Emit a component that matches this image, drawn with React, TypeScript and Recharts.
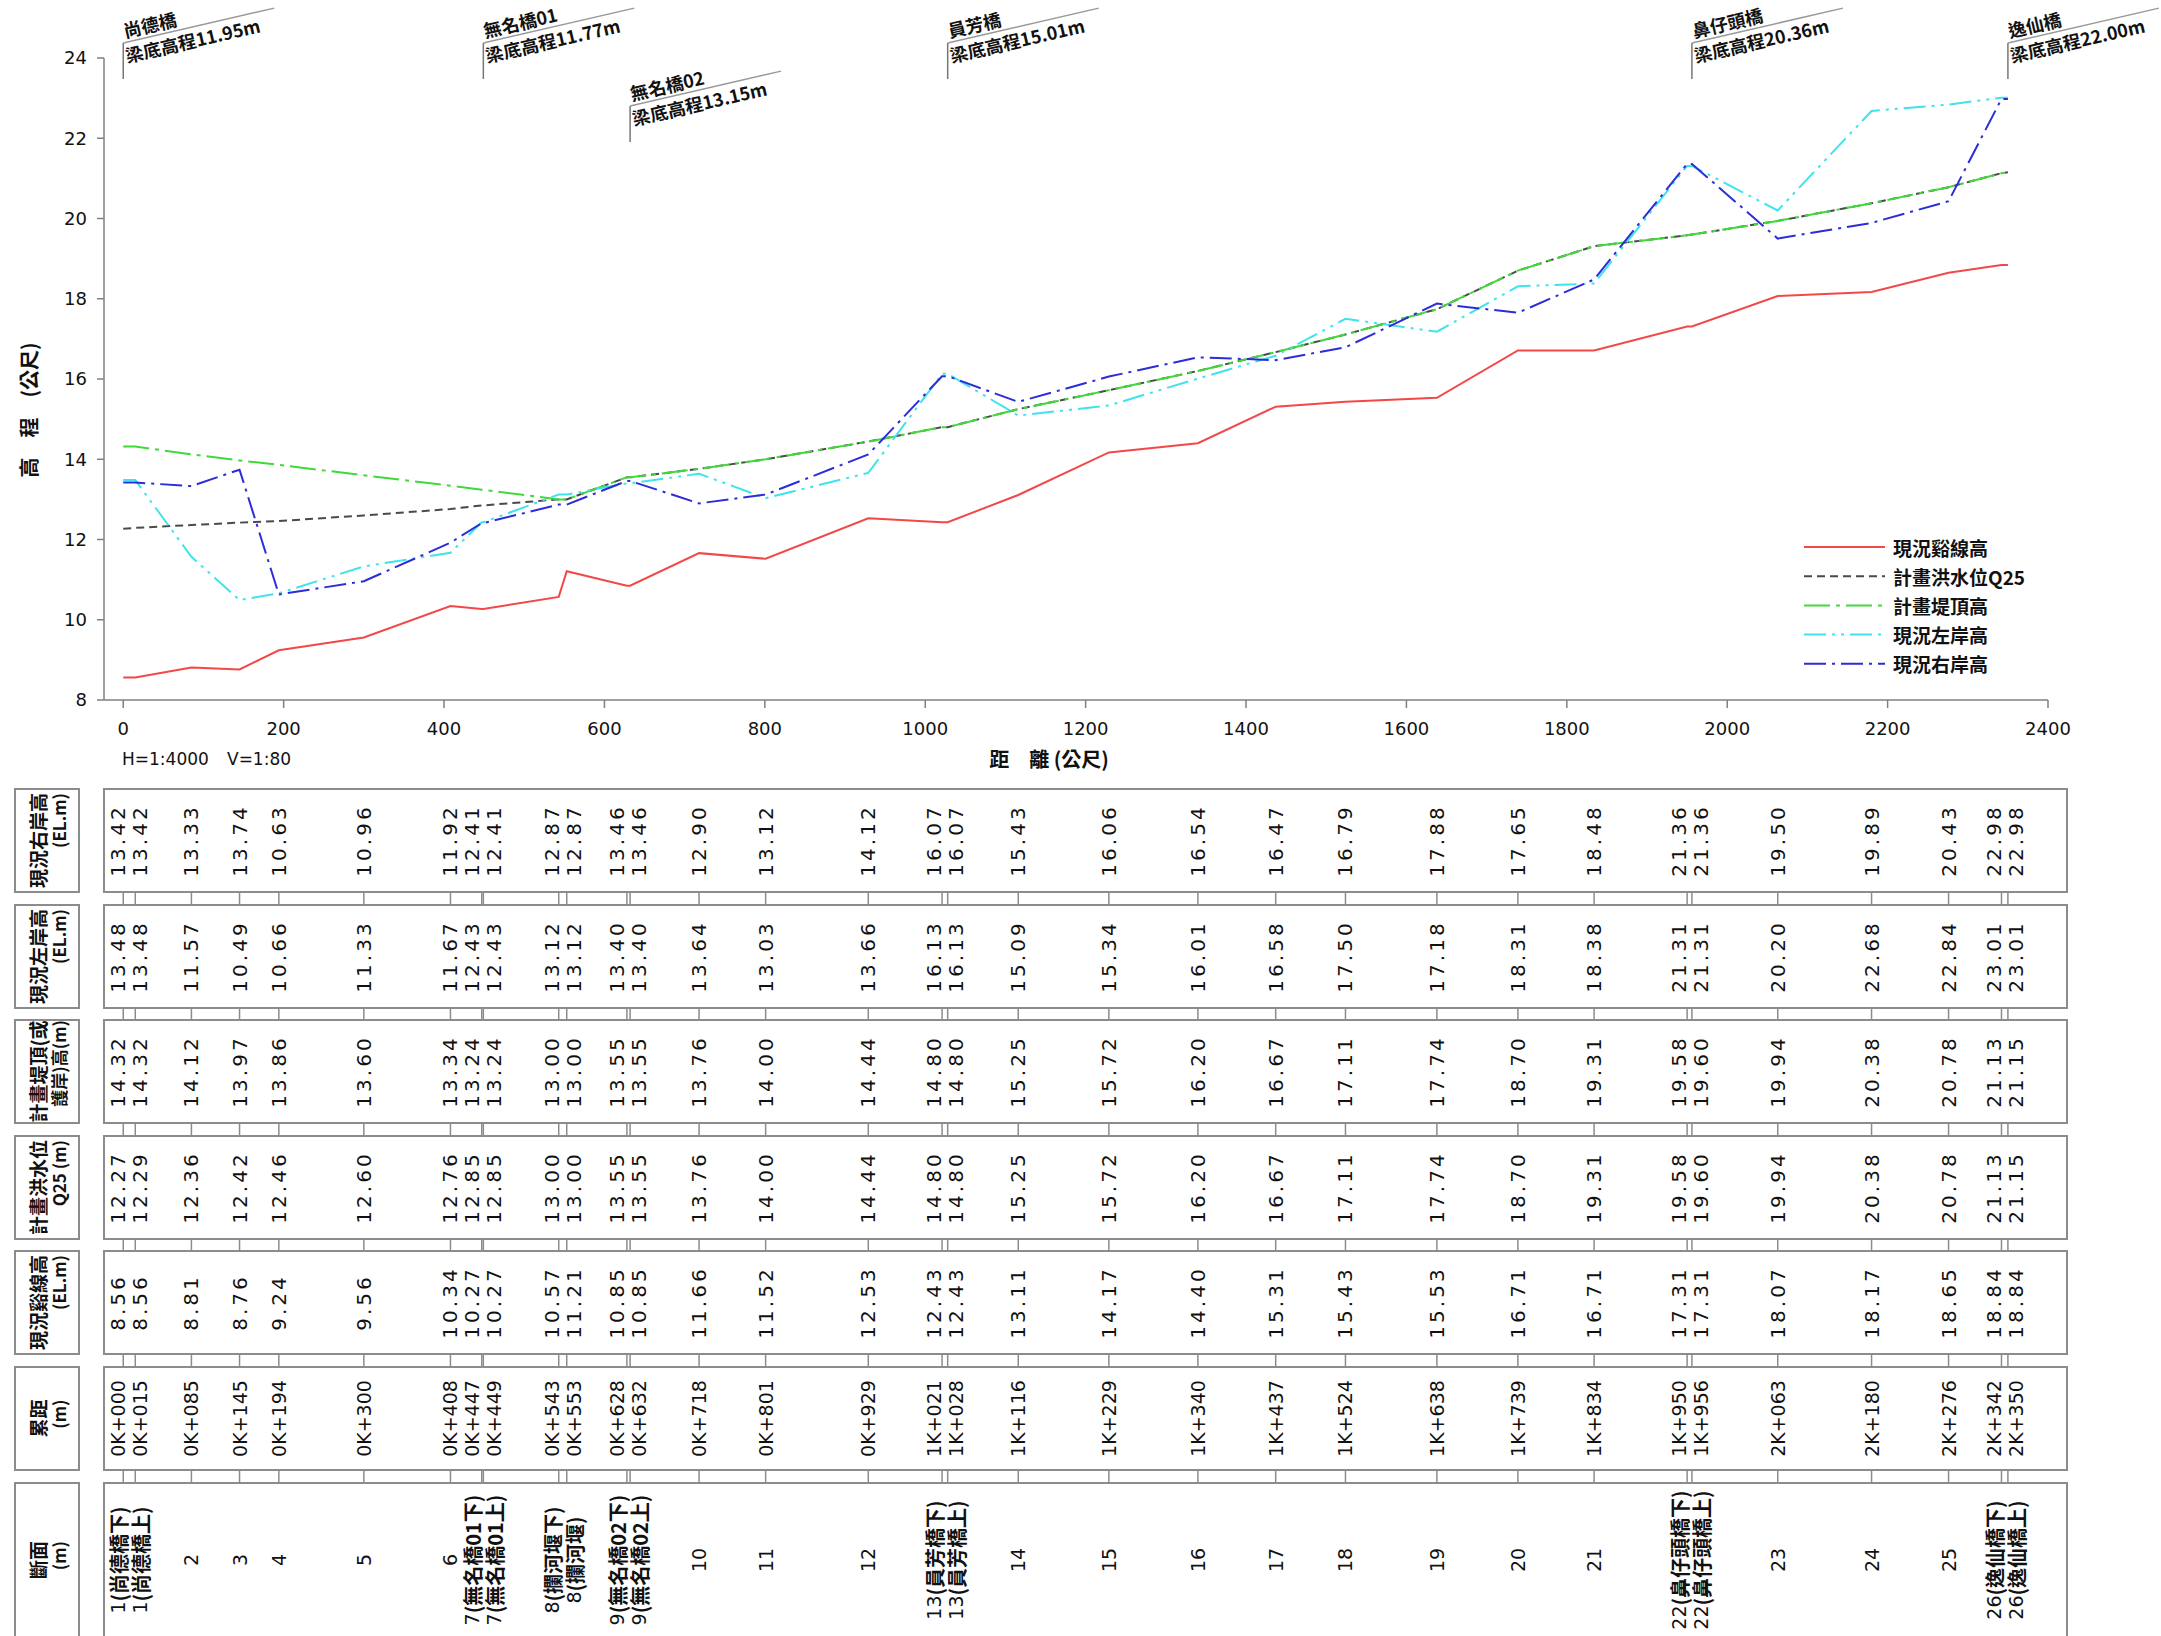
import React from "react";
import { ComposedChart, Line, XAxis, YAxis, ReferenceDot, Legend } from "recharts";

// 累距 (m)
const stations = [
  0, 15, 85, 145, 194, 300, 408, 447, 449, 543, 553, 628, 632, 718, 801, 929,
  1021, 1028, 1116, 1229, 1340, 1437, 1524, 1638, 1739, 1834, 1950, 1956, 2063,
  2180, 2276, 2342, 2350,
];
const rightBank = [
  13.42, 13.42, 13.33, 13.74, 10.63, 10.96, 11.92, 12.41, 12.41, 12.87, 12.87,
  13.46, 13.46, 12.9, 13.12, 14.12, 16.07, 16.07, 15.43, 16.06, 16.54, 16.47,
  16.79, 17.88, 17.65, 18.48, 21.36, 21.36, 19.5, 19.89, 20.43, 22.98, 22.98,
];
const leftBank = [
  13.48, 13.48, 11.57, 10.49, 10.66, 11.33, 11.67, 12.43, 12.43, 13.12, 13.12,
  13.4, 13.4, 13.64, 13.03, 13.66, 16.13, 16.13, 15.09, 15.34, 16.01, 16.58,
  17.5, 17.18, 18.31, 18.38, 21.31, 21.31, 20.2, 22.68, 22.84, 23.01, 23.01,
];
const leveeTop = [
  14.32, 14.32, 14.12, 13.97, 13.86, 13.6, 13.34, 13.24, 13.24, 13.0, 13.0,
  13.55, 13.55, 13.76, 14.0, 14.44, 14.8, 14.8, 15.25, 15.72, 16.2, 16.67,
  17.11, 17.74, 18.7, 19.31, 19.58, 19.6, 19.94, 20.38, 20.78, 21.13, 21.15,
];
const floodQ25 = [
  12.27, 12.29, 12.36, 12.42, 12.46, 12.6, 12.76, 12.85, 12.85, 13.0, 13.0,
  13.55, 13.55, 13.76, 14.0, 14.44, 14.8, 14.8, 15.25, 15.72, 16.2, 16.67,
  17.11, 17.74, 18.7, 19.31, 19.58, 19.6, 19.94, 20.38, 20.78, 21.13, 21.15,
];
const thalweg = [
  8.56, 8.56, 8.81, 8.76, 9.24, 9.56, 10.34, 10.27, 10.27, 10.57, 11.21, 10.85,
  10.85, 11.66, 11.52, 12.53, 12.43, 12.43, 13.11, 14.17, 14.4, 15.31, 15.43,
  15.53, 16.71, 16.71, 17.31, 17.31, 18.07, 18.17, 18.65, 18.84, 18.84,
];
const sectionNos = [
  "1", "1", "2", "3", "4", "5", "6", "7", "7", "8", "8", "9", "9", "10", "11",
  "12", "13", "13", "14", "15", "16", "17", "18", "19", "20", "21", "22", "22",
  "23", "24", "25", "26", "26",
];
const sectionNotes = [
  "(尚德橋下)", "(尚德橋上)", "", "", "", "", "", "(無名橋01下)", "(無名橋01上)",
  "(攔河堰下)", "(攔河堰)", "(無名橋02下)", "(無名橋02上)", "", "", "",
  "(員芳橋下)", "(員芳橋上)", "", "", "", "", "", "", "", "",
  "(鼻仔頭橋下)", "(鼻仔頭橋上)", "", "", "", "(逸仙橋下)", "(逸仙橋上)",
];

const bridgeNames = ["尚德橋", "無名橋01", "無名橋02", "員芳橋", "鼻仔頭橋", "逸仙橋"];
const bridgeBeams = [
  "梁底高程11.95m", "梁底高程11.77m", "梁底高程13.15m",
  "梁底高程15.01m", "梁底高程20.36m", "梁底高程22.00m",
];
const bridgeDists = [0, 449, 632, 1028, 1956, 2350];

const xTicks = [0, 200, 400, 600, 800, 1000, 1200, 1400, 1600, 1800, 2000, 2200, 2400];
const yTicks = [8, 10, 12, 14, 16, 18, 20, 22, 24];

const rowTitles = [
  ["現況右岸高", "(EL.m)"],
  ["現況左岸高", "(EL.m)"],
  ["計畫堤頂(或", "護岸)高(m)"],
  ["計畫洪水位", "Q25 (m)"],
  ["現況谿線高", "(EL.m)"],
  ["累距", "(m)"],
  ["斷面", "(m)"],
];

// layout
const W = 2161;
const H = 1636;
const PLOT_L = 104;
const PLOT_R = 2048;
const PLOT_T = 58;
const PLOT_B = 700;
const X_MIN = -24;
const X_MAX = 2400;
const ROW_TOPS = [789, 905, 1020, 1136, 1251, 1367, 1483];
const ROW_H = 103;
const LAST_ROW_BOTTOM = 1645;
const FONT_NUM = "'DejaVu Sans', sans-serif";
const FONT_CJK = "'Noto Sans CJK TC', 'Noto Sans CJK SC', sans-serif";
const GRID = "#8c8c8c";

const seriesStyles = [
  { key: "bed", name: "現況谿線高", color: "#f24848", dash: undefined as string | undefined },
  { key: "q25", name: "計畫洪水位Q25", color: "#4a4a4a", dash: "8 5" },
  { key: "levee", name: "計畫堤頂高", color: "#3fd93a", dash: "26 6 4 6" },
  { key: "left", name: "現況左岸高", color: "#3fe3ec", dash: "22 6 3 6 3 6" },
  { key: "right", name: "現況右岸高", color: "#2c2cd8", dash: "22 6 3 6" },
];

const data = stations.map((dist, i) => ({
  dist,
  right: rightBank[i],
  left: leftBank[i],
  levee: leveeTop[i],
  q25: floodQ25[i],
  bed: thalweg[i],
}));

const pxPerM = (PLOT_R - PLOT_L) / (X_MAX - X_MIN);

// push table text columns apart where stations sit close together
function spreadShifts(values: number[], gap: number) {
  const ps = values.map((v) => v * pxPerM);
  let groups = ps.map((p, i) => ({ start: i, n: 1, sum: p }));
  let merged = true;
  while (merged) {
    merged = false;
    for (let k = 0; k < groups.length - 1; k++) {
      const a = groups[k];
      const b = groups[k + 1];
      const aEnd = a.sum / a.n + ((a.n - 1) / 2) * gap;
      const bStart = b.sum / b.n - ((b.n - 1) / 2) * gap;
      if (bStart - aEnd < gap) {
        groups.splice(k, 2, { start: a.start, n: a.n + b.n, sum: a.sum + b.sum });
        merged = true;
        break;
      }
    }
  }
  const shifts = new Array(ps.length).fill(0);
  groups.forEach((g) => {
    const c = g.sum / g.n;
    for (let j = 0; j < g.n; j++) {
      shifts[g.start + j] = c + (j - (g.n - 1) / 2) * gap - ps[g.start + j];
    }
  });
  return shifts;
}
const labelShifts = spreadShifts(stations, 22);

const chainage = (d: number) =>
  `${Math.floor(d / 1000)}K+${String(d % 1000).padStart(3, "0")}`;

const rowMid = (r: number) =>
  r === 6 ? 1560 : ROW_TOPS[r] + ROW_H / 2;

function TableColumn(props: any) {
  const { cx, index, payload } = props;
  if (cx == null || !payload) return <g key={`c-${index}`} />;
  const tx = cx + labelShifts[index];
  const values = [
    payload.right.toFixed(2),
    payload.left.toFixed(2),
    payload.levee.toFixed(2),
    payload.q25.toFixed(2),
    payload.bed.toFixed(2),
  ];
  const rot = (r: number) => `rotate(-90 ${tx} ${rowMid(r)})`;
  return (
    <g key={`c-${index}`}>
      {ROW_TOPS.slice(0, 6).map((top, r) => (
        <line key={`g-${r}`} x1={cx} x2={cx} y1={top + ROW_H} y2={ROW_TOPS[r + 1]} stroke={GRID} strokeWidth={1.5} />
      ))}
      {values.map((v, r) => (
        <text
          key={`v-${r}`}
          x={tx}
          y={rowMid(r)}
          transform={rot(r)}
          textAnchor="middle"
          dominantBaseline="central"
          fontFamily={FONT_NUM}
          fontSize={20}
          letterSpacing={3}
          fill="#111"
        >
          {v}
        </text>
      ))}
      <text
        x={tx}
        y={rowMid(5)}
        transform={rot(5)}
        textAnchor="middle"
        dominantBaseline="central"
        fontFamily={FONT_NUM}
        fontSize={19}
        fill="#111"
      >
        {chainage(payload.dist)}
      </text>
      <text
        x={tx}
        y={rowMid(6)}
        transform={rot(6)}
        textAnchor="middle"
        dominantBaseline="central"
        fontFamily={FONT_NUM}
        fontSize={19}
        fill="#111"
      >
        {sectionNos[index]}
        {sectionNotes[index] ? (
          <tspan fontFamily={FONT_CJK} fontWeight={700} fontSize={20}>{sectionNotes[index]}</tspan>
        ) : null}
      </text>
    </g>
  );
}

const ANG = 13;
function BridgeMark({ cx, cy, name, beam, drop }: any) {
  if (cx == null || cy == null) return <g />;
  const top = cy - 15 + (drop ? 63 : 0);
  const L = 155;
  const rad = (ANG * Math.PI) / 180;
  return (
    <g>
      <line x1={cx} y1={top} x2={cx} y2={top + 36} stroke="#777" strokeWidth={1.5} />
      <line x1={cx} y1={top} x2={cx + L * Math.cos(rad)} y2={top - L * Math.sin(rad)} stroke="#999" strokeWidth={1.5} />
      <text transform={`translate(${cx + 2},${top - 5}) rotate(-${ANG})`} fontFamily={FONT_CJK} fontWeight={700} fontSize={18} fill="#111">
        {name}
      </text>
      <text transform={`translate(${cx + 4},${top + 20}) rotate(-${ANG})`} fontFamily={FONT_CJK} fontWeight={700} fontSize={18} fill="#111">
        {beam}
      </text>
    </g>
  );
}

function LegendBox() {
  return (
    <svg width={320} height={150}>
      {seriesStyles.map((s, i) => {
        const y = 15 + i * 29.2;
        return (
          <g key={s.key}>
            <line x1={4} x2={85} y1={y} y2={y} stroke={s.color} strokeWidth={2} strokeDasharray={s.dash} />
            <text x={93} y={y} dominantBaseline="central" fontFamily={FONT_CJK} fontWeight={700} fontSize={19} fill="#111">
              {s.name}
            </text>
          </g>
        );
      })}
    </svg>
  );
}

function TableFrame() {
  const titleLen = (t: string) =>
    Array.from(t).reduce((acc, ch) => acc + (/[\u3400-\u9fff]/.test(ch) ? 19 : 8), 0);
  return (
    <svg width={W} height={H} style={{ position: "absolute", left: 0, top: 0, pointerEvents: "none" }}>
      {ROW_TOPS.map((top, r) => {
        const h = r === 6 ? LAST_ROW_BOTTOM - top : ROW_H;
        const mid = rowMid(r);
        const [t1, t2] = rowTitles[r];
        const endY = mid - titleLen(t1) / 2;
        return (
          <g key={r}>
            <rect x={15} y={top} width={64} height={h} fill="none" stroke={GRID} strokeWidth={2} />
            <rect x={104} y={top} width={1963} height={h} fill="none" stroke={GRID} strokeWidth={2} />
            <text x={37} y={mid} transform={`rotate(-90 37 ${mid})`} textAnchor="middle" dominantBaseline="central" fontFamily={FONT_CJK} fontWeight={700} fontSize={19} fill="#111">
              {t1}
            </text>
            <text x={58} y={endY} transform={`rotate(-90 58 ${endY})`} textAnchor="end" dominantBaseline="central" fontFamily={FONT_CJK} fontWeight={700} fontSize={17} fill="#111">
              {t2}
            </text>
          </g>
        );
      })}
      <text x={28} y={410} transform="rotate(-90 28 410)" textAnchor="middle" dominantBaseline="central" fontFamily={FONT_CJK} fontWeight={700} fontSize={20} fill="#111">
        高　程　(公尺)
      </text>
      <text x={1049} y={758} textAnchor="middle" dominantBaseline="central" fontFamily={FONT_CJK} fontWeight={700} fontSize={20} fill="#111">
        距　離 (公尺)
      </text>
      <text x={122} y={759} dominantBaseline="central" fontFamily={FONT_NUM} fontSize={17} fill="#111">
        H=1:4000
      </text>
      <text x={227} y={759} dominantBaseline="central" fontFamily={FONT_NUM} fontSize={17} fill="#111">
        V=1:80
      </text>
    </svg>
  );
}

export default function App() {
  return (
    <div style={{ position: "absolute", left: 0, top: 0, width: W, height: H, overflow: "hidden", background: "#fff" }}>
      <ComposedChart
        width={W}
        height={H}
        data={data}
        margin={{ top: PLOT_T, right: W - PLOT_R, bottom: H - PLOT_B - 60, left: 0 }}
      >
        <XAxis
          type="number"
          dataKey="dist"
          domain={[X_MIN, X_MAX]}
          ticks={xTicks}
          interval={0}
          height={60}
          tickSize={8}
          tickMargin={14}
          axisLine={{ stroke: "#808080", strokeWidth: 1.5 }}
          tickLine={{ stroke: "#808080", strokeWidth: 1.5 }}
          tick={{ fontSize: 18, fill: "#111", fontFamily: FONT_NUM }}
        />
        <YAxis
          type="number"
          domain={[8, 24]}
          ticks={yTicks}
          interval={0}
          width={PLOT_L}
          tickSize={7}
          tickMargin={10}
          axisLine={{ stroke: "#808080", strokeWidth: 1.5 }}
          tickLine={{ stroke: "#808080", strokeWidth: 1.5 }}
          tick={{ fontSize: 18, fill: "#111", fontFamily: FONT_NUM }}
        />
        <Legend
          layout="vertical"
          align="center"
          verticalAlign="middle"
          wrapperStyle={{ left: 1800, top: 532, width: 320, height: 150 }}
          content={() => <LegendBox />}
        />
        {seriesStyles.map((s) => (
          <Line
            key={s.key}
            type="linear"
            dataKey={s.key}
            name={s.name}
            stroke={s.color}
            strokeWidth={2}
            strokeDasharray={s.dash}
            dot={false}
            activeDot={false}
            isAnimationActive={false}
          />
        ))}
        <Line
          type="linear"
          dataKey="bed"
          stroke="none"
          legendType="none"
          dot={TableColumn}
          activeDot={false}
          isAnimationActive={false}
        />
        {bridgeDists.map((d, i) => (
          <ReferenceDot
            key={bridgeNames[i]}
            x={d}
            y={24}
            r={0}
            ifOverflow="visible"
            shape={(p: any) => (
              <BridgeMark cx={p.cx} cy={p.cy} name={bridgeNames[i]} beam={bridgeBeams[i]} drop={i === 2} />
            )}
          />
        ))}
      </ComposedChart>
      <TableFrame />
    </div>
  );
}
